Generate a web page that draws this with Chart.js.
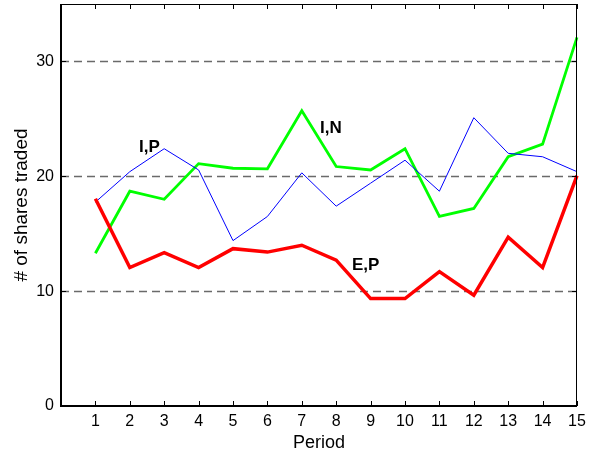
<!DOCTYPE html>
<html>
<head>
<meta charset="utf-8">
<script src="https://cdn.jsdelivr.net/npm/chart.js@4.4.0/dist/chart.umd.min.js"></script>
<style>
  body { margin: 0; background: #fff; }
  #wrap { width: 589px; height: 459px; }
</style>
</head>
<body>
<div id="wrap"><canvas id="chart" width="589" height="459"></canvas></div>
<script>
// data
const periods = [1, 2, 3, 4, 5, 6, 7, 8, 9, 10, 11, 12, 13, 14, 15];
const inShares = [13.3, 18.7, 18.0, 21.1, 20.7, 20.65, 25.7, 20.85, 20.55, 22.4, 16.5, 17.2, 21.7, 22.8, 32.1];
const ipShares = [17.75, 20.4, 22.4, 20.55, 14.4, 16.5, 20.3, 17.4, 19.4, 21.4, 18.7, 25.1, 22.0, 21.7, 20.4];
const epShares = [18.05, 12.05, 13.35, 12.05, 13.7, 13.4, 14.0, 12.7, 9.35, 9.35, 11.7, 9.65, 14.7, 12.05, 20.05];
const yTicks = [0, 10, 20, 30];
const gridLines = [10, 20, 30];

// text labels next to the lines (in data units)
const notes = [
  { text: 'I,P', x: 2.27, y: 22.15 },
  { text: 'I,N', x: 7.53, y: 23.75 },
  { text: 'E,P', x: 8.46, y: 11.8 }
];

const toPoints = vals => periods.map((p, i) => ({ x: p, y: vals[i] }));

// dashed grid, boxed frame with inward ticks, line labels
const framePlugin = {
  id: 'frame',
  beforeDatasetsDraw(chart) {
    const { ctx, chartArea: a, scales: { y } } = chart;
    ctx.save();
    ctx.strokeStyle = '#6a6a6a';
    ctx.lineWidth = 1.5;
    ctx.setLineDash([8, 5]);
    gridLines.forEach(v => {
      const py = Math.round(y.getPixelForValue(v)) + 0.5;
      ctx.beginPath();
      ctx.moveTo(a.left, py);
      ctx.lineTo(a.right, py);
      ctx.stroke();
    });
    ctx.restore();
  },
  afterDatasetsDraw(chart) {
    const { ctx, chartArea: a, scales: { x, y } } = chart;
    ctx.save();
    ctx.strokeStyle = '#000';
    // ticks
    ctx.lineWidth = 1;
    periods.forEach(p => {
      const px = Math.round(x.getPixelForValue(p)) + 0.5;
      ctx.beginPath();
      ctx.moveTo(px, a.bottom); ctx.lineTo(px, a.bottom - 5);
      ctx.moveTo(px, a.top); ctx.lineTo(px, a.top + 5);
      ctx.stroke();
    });
    yTicks.forEach(v => {
      const py = Math.round(y.getPixelForValue(v)) + 0.5;
      ctx.beginPath();
      ctx.moveTo(a.right, py); ctx.lineTo(a.right - 5, py);
      ctx.moveTo(a.left, py); ctx.lineTo(a.left + 5, py);
      ctx.stroke();
    });
    // box
    ctx.beginPath();
    ctx.moveTo(a.left, a.top + 0.5); ctx.lineTo(a.right, a.top + 0.5);
    ctx.moveTo(a.right - 0.5, a.top); ctx.lineTo(a.right - 0.5, a.bottom);
    ctx.stroke();
    ctx.lineWidth = 2;
    ctx.beginPath();
    ctx.moveTo(a.left, a.top); ctx.lineTo(a.left, a.bottom);
    ctx.lineTo(a.right, a.bottom);
    ctx.stroke();
    // labels
    ctx.fillStyle = '#000';
    ctx.font = 'bold 17px Arial, "Liberation Sans", sans-serif';
    ctx.textAlign = 'left';
    ctx.textBaseline = 'alphabetic';
    notes.forEach(n => {
      ctx.fillText(n.text, x.getPixelForValue(n.x), y.getPixelForValue(n.y));
    });
    ctx.restore();
  }
};

const tickFont = { family: 'Arial, "Liberation Sans", sans-serif', size: 16 };

new Chart(document.getElementById('chart'), {
  type: 'line',
  data: {
    datasets: [
      { label: 'E,P', data: toPoints(epShares), borderColor: '#ff0000', borderWidth: 3.5, order: 0 },
      { label: 'I,P', data: toPoints(ipShares), borderColor: '#0000ff', borderWidth: 1, order: 1 },
      { label: 'I,N', data: toPoints(inShares), borderColor: '#00ff00', borderWidth: 2.8, order: 2 }
    ]
  },
  options: {
    responsive: false,
    animation: false,
    devicePixelRatio: 1,
    layout: { padding: { top: 4, right: 12, left: 0, bottom: 0 } },
    elements: { point: { radius: 0 }, line: { tension: 0, fill: false, borderJoinStyle: 'miter' } },
    datasets: { line: { clip: 4 } },
    plugins: { legend: { display: false }, tooltip: { enabled: false } },
    scales: {
      x: {
        type: 'linear',
        min: 0,
        max: 15,
        grid: { display: false, drawTicks: false },
        border: { display: false },
        afterBuildTicks: s => { s.ticks = periods.map(v => ({ value: v })); },
        afterFit: s => { s.height = 53; s.paddingLeft = 0; s.paddingRight = 0; },
        ticks: { color: '#000', font: tickFont, padding: 6, maxRotation: 0, autoSkip: false },
        title: { display: true, text: 'Period', color: '#000', font: { family: tickFont.family, size: 18 }, padding: { top: 0, bottom: 5 } }
      },
      y: {
        min: 0,
        max: 35,
        grid: { display: false, drawTicks: false },
        border: { display: false },
        afterBuildTicks: s => { s.ticks = yTicks.map(v => ({ value: v })); },
        afterFit: s => { s.width = 61; s.paddingTop = 0; s.paddingBottom = 0; },
        ticks: { color: '#000', font: tickFont, padding: 7 },
        title: { display: true, text: '# of shares traded', color: '#000', font: { family: tickFont.family, size: 19 }, padding: { top: 10, bottom: 0 } }
      }
    }
  },
  plugins: [framePlugin]
});
</script>
</body>
</html>
